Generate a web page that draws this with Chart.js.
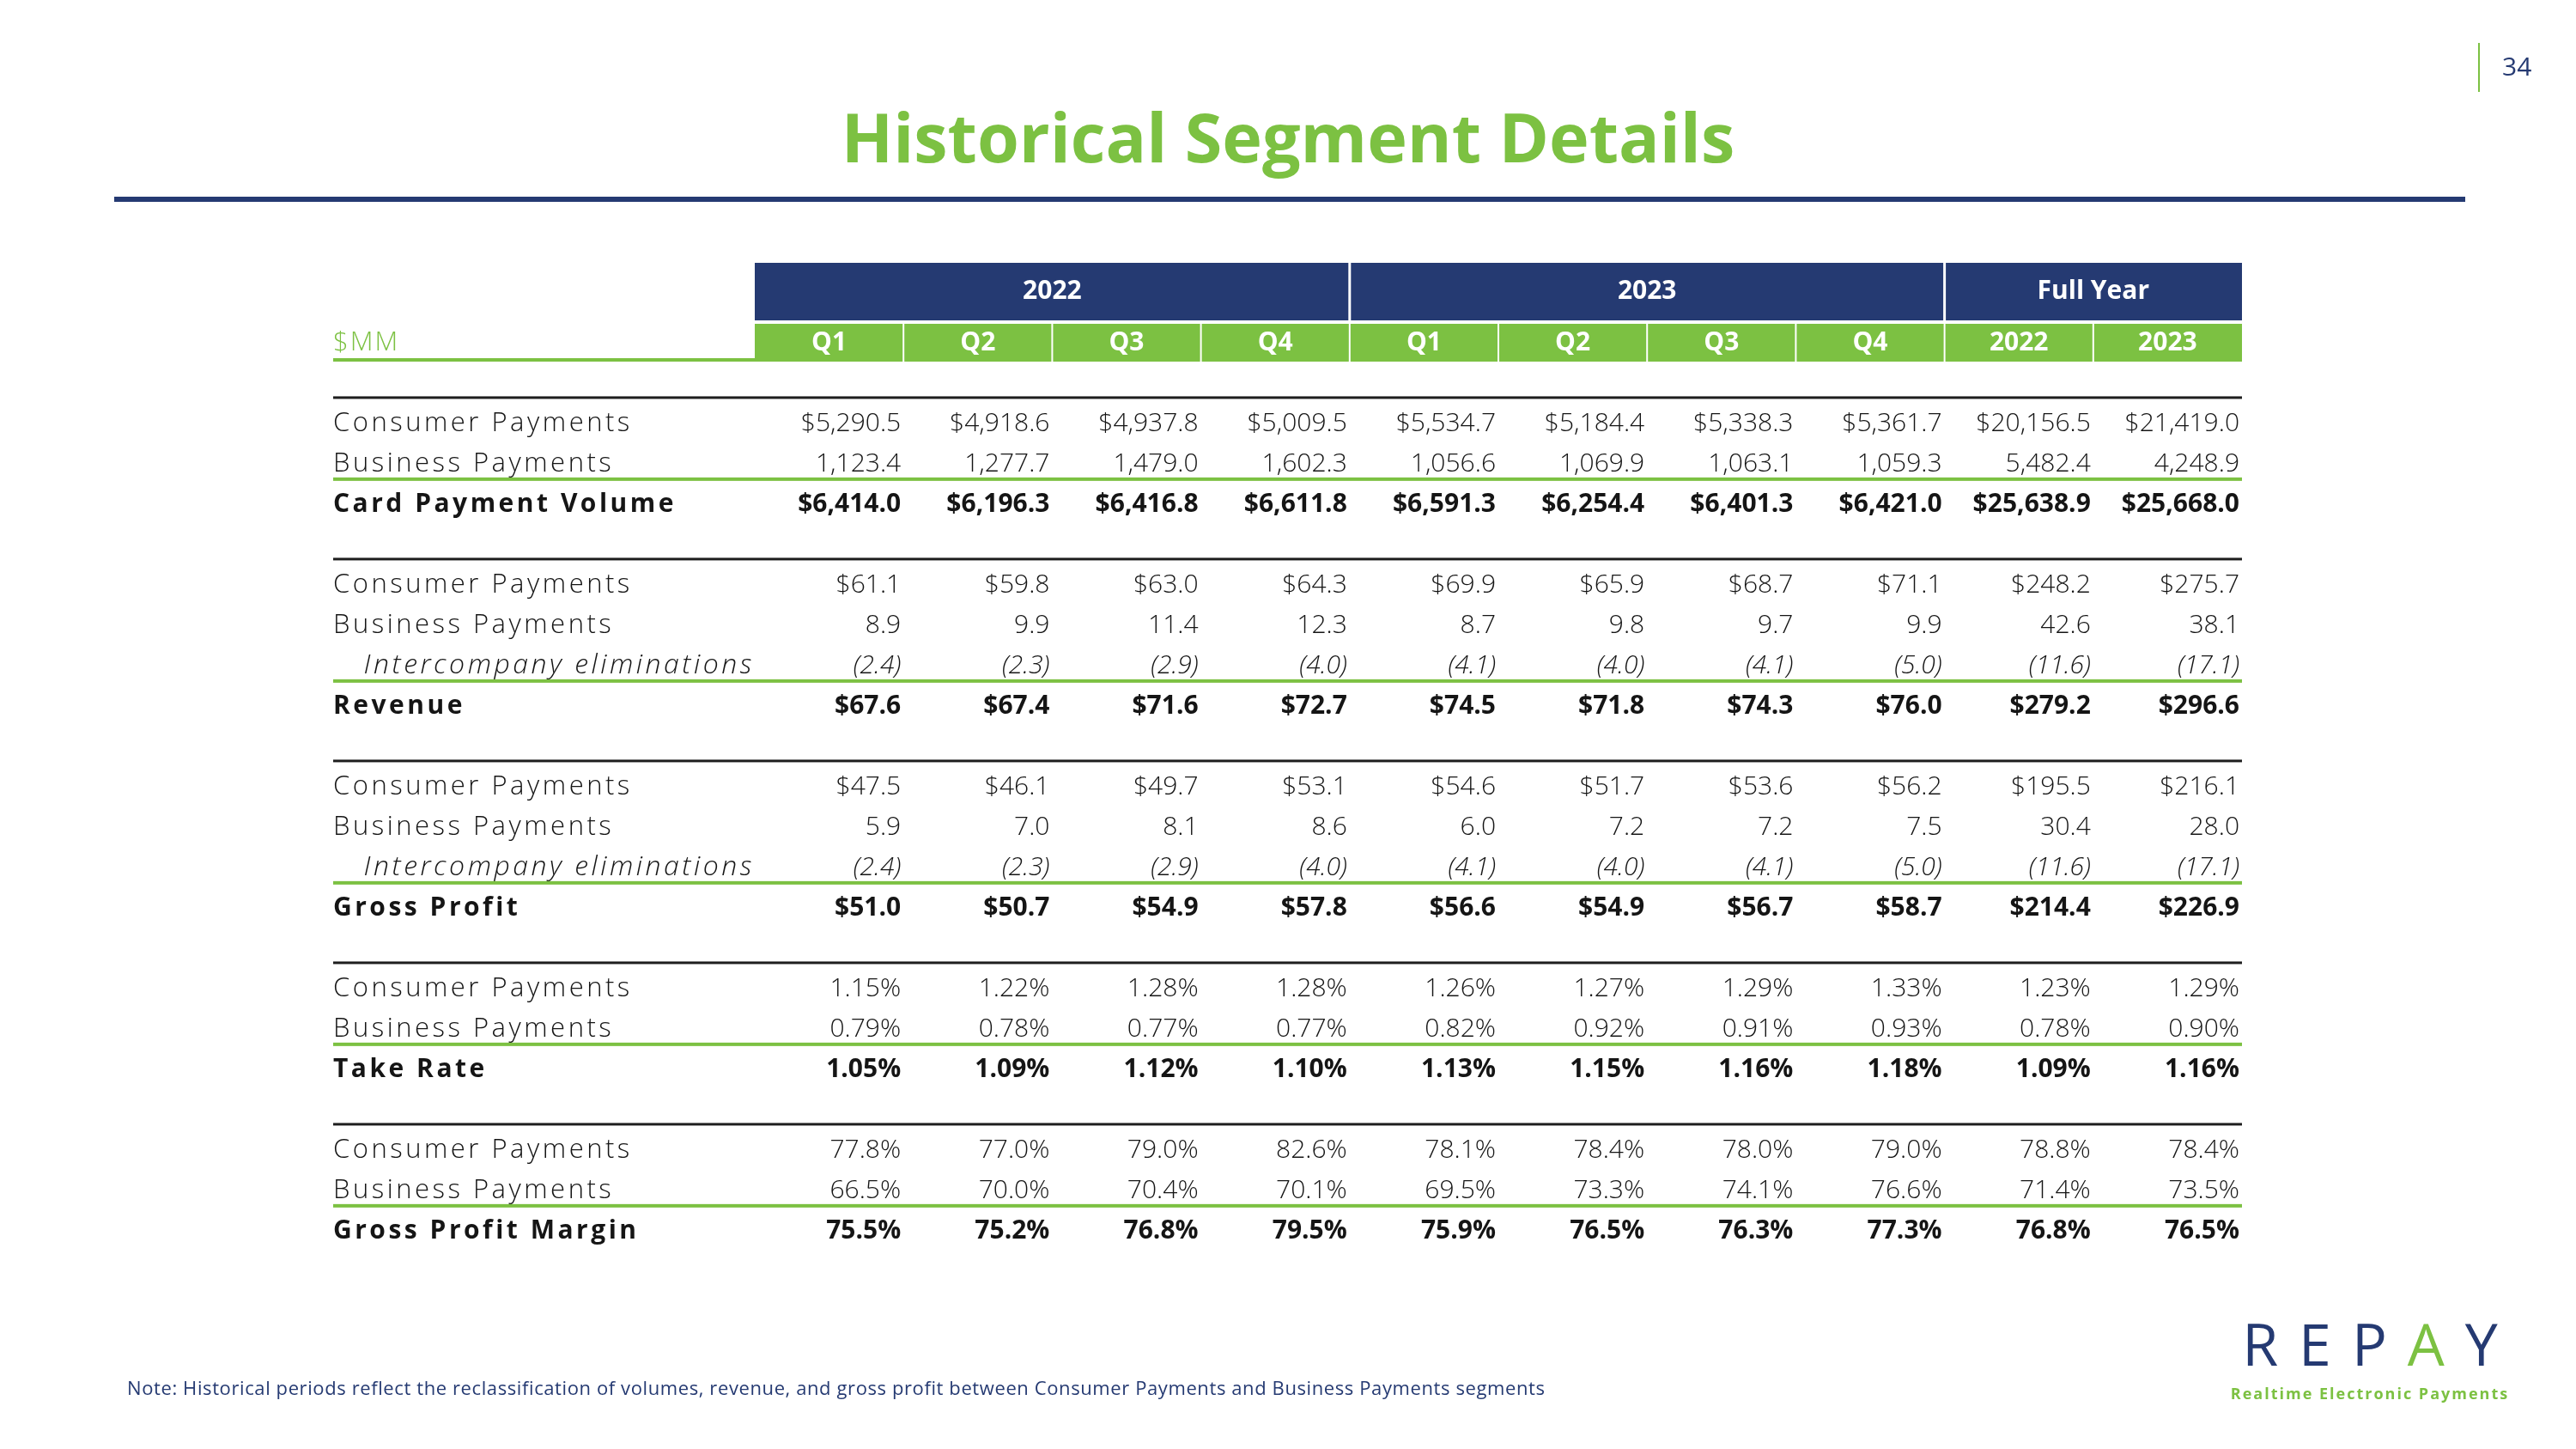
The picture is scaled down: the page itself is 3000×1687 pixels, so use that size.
<!DOCTYPE html>
<html>
<head>
<meta charset="utf-8">
<script src="https://cdn.jsdelivr.net/npm/chart.js@4.4.1/dist/chart.umd.min.js"></script>
<style>
  html, body { margin: 0; padding: 0; background: #fff; }
  #wrap { position: relative; width: 3000px; height: 1687px; overflow: hidden; font-family: "Open Sans", sans-serif; }
  #chart { position: absolute; left: 0; top: 0; }
  .title { position: absolute; left: 0; width: 3000px; top: 101px; text-align: center; color: #7cc142; font-weight: 700; font-size: 79px; line-height: 116px; }
  .rule { position: absolute; left: 133px; width: 2738px; top: 229px; height: 6px; background: #253a72; }
  .pagebar { position: absolute; left: 2886px; top: 50px; width: 2px; height: 57px; background: #7cc142; }
  .pagenum { position: absolute; left: 2914px; top: 57px; font-size: 30px; line-height: 40px; color: #253a72; }
  .note { position: absolute; left: 148px; top: 1601px; font-size: 22px; line-height: 28px; letter-spacing: 0.6px; color: #253a72; white-space: nowrap; }
  .logo { position: absolute; left: 2560px; top: 1528px; width: 400px; text-align: center; }
  .logo .mark { font-size: 68px; line-height: 72px; letter-spacing: 24px; margin-right: -24px; color: #253a72; font-weight: 400; }
  .logo .mark span { color: #7cc142; }
  .logo .tag { font-size: 18px; line-height: 24px; letter-spacing: 2px; color: #7cc142; font-weight: 700; margin-top: 10px; white-space: nowrap; }
</style>
</head>
<body>
<div id="wrap">
  <canvas id="chart" width="3000" height="1687"></canvas>
  <div class="title">Historical Segment Details</div>
  <div class="rule"></div>
  <div class="pagebar"></div>
  <div class="pagenum">34</div>
  <div class="note">Note: Historical periods reflect the reclassification of volumes, revenue, and gross profit between Consumer Payments and Business Payments segments</div>
  <div class="logo"><div class="mark">REP<span>A</span>Y</div><div class="tag">Realtime Electronic Payments</div></div>
</div>
<script>
// Column headers
const columns = ['Q1', 'Q2', 'Q3', 'Q4', 'Q1', 'Q2', 'Q3', 'Q4', '2022', '2023'];
const groups = ['2022', '2023', 'Full Year'];
const groupSpans = [4, 4, 2];

// Row labels ('' = spacer row between sections)
const rowLabels = [
  'Consumer Payments', 'Business Payments', 'Card Payment Volume', '',
  'Consumer Payments', 'Business Payments', 'Intercompany eliminations', 'Revenue', '',
  'Consumer Payments', 'Business Payments', 'Intercompany eliminations', 'Gross Profit', '',
  'Consumer Payments', 'Business Payments', 'Take Rate', '',
  'Consumer Payments', 'Business Payments', 'Gross Profit Margin'
];
const sectionStarts = [0, 4, 9, 14, 18];
const totalRows = [2, 7, 12, 16, 20];
const elimRows = [6, 11];

// Card payment volume ($MM)
const volConsumer = [5290.5, 4918.6, 4937.8, 5009.5, 5534.7, 5184.4, 5338.3, 5361.7, 20156.5, 21419.0];
const volBusiness = [1123.4, 1277.7, 1479.0, 1602.3, 1056.6, 1069.9, 1063.1, 1059.3, 5482.4, 4248.9];
const volTotal = [6414.0, 6196.3, 6416.8, 6611.8, 6591.3, 6254.4, 6401.3, 6421.0, 25638.9, 25668.0];

// Revenue
const revConsumer = [61.1, 59.8, 63.0, 64.3, 69.9, 65.9, 68.7, 71.1, 248.2, 275.7];
const revBusiness = [8.9, 9.9, 11.4, 12.3, 8.7, 9.8, 9.7, 9.9, 42.6, 38.1];
const revElim = [-2.4, -2.3, -2.9, -4.0, -4.1, -4.0, -4.1, -5.0, -11.6, -17.1];
const revTotal = [67.6, 67.4, 71.6, 72.7, 74.5, 71.8, 74.3, 76.0, 279.2, 296.6];

// Gross profit
const gpConsumer = [47.5, 46.1, 49.7, 53.1, 54.6, 51.7, 53.6, 56.2, 195.5, 216.1];
const gpBusiness = [5.9, 7.0, 8.1, 8.6, 6.0, 7.2, 7.2, 7.5, 30.4, 28.0];
const gpElim = [-2.4, -2.3, -2.9, -4.0, -4.1, -4.0, -4.1, -5.0, -11.6, -17.1];
const gpTotal = [51.0, 50.7, 54.9, 57.8, 56.6, 54.9, 56.7, 58.7, 214.4, 226.9];

// Take rate (%)
const takeConsumer = [1.15, 1.22, 1.28, 1.28, 1.26, 1.27, 1.29, 1.33, 1.23, 1.29];
const takeBusiness = [0.79, 0.78, 0.77, 0.77, 0.82, 0.92, 0.91, 0.93, 0.78, 0.90];
const takeTotal = [1.05, 1.09, 1.12, 1.10, 1.13, 1.15, 1.16, 1.18, 1.09, 1.16];

// Gross profit margin (%)
const gpmConsumer = [77.8, 77.0, 79.0, 82.6, 78.1, 78.4, 78.0, 79.0, 78.8, 78.4];
const gpmBusiness = [66.5, 70.0, 70.4, 70.1, 69.5, 73.3, 74.1, 76.6, 71.4, 73.5];
const gpmTotal = [75.5, 75.2, 76.8, 79.5, 75.9, 76.5, 76.3, 77.3, 76.8, 76.5];

const tableRows = [
  { row: 0, values: volConsumer, kind: 'usd' },
  { row: 1, values: volBusiness, kind: 'num' },
  { row: 2, values: volTotal, kind: 'usd' },
  { row: 4, values: revConsumer, kind: 'usd' },
  { row: 5, values: revBusiness, kind: 'num' },
  { row: 6, values: revElim, kind: 'num' },
  { row: 7, values: revTotal, kind: 'usd' },
  { row: 9, values: gpConsumer, kind: 'usd' },
  { row: 10, values: gpBusiness, kind: 'num' },
  { row: 11, values: gpElim, kind: 'num' },
  { row: 12, values: gpTotal, kind: 'usd' },
  { row: 14, values: takeConsumer, kind: 'pct2' },
  { row: 15, values: takeBusiness, kind: 'pct2' },
  { row: 16, values: takeTotal, kind: 'pct2' },
  { row: 18, values: gpmConsumer, kind: 'pct1' },
  { row: 19, values: gpmBusiness, kind: 'pct1' },
  { row: 20, values: gpmTotal, kind: 'pct1' }
];

const NAVY = '#253a72';
const GREEN = '#7cc142';
const INK = '#151515';
const FONT = '"Open Sans", sans-serif';

function fmt(v, kind) {
  if (kind === 'pct2') return v.toFixed(2) + '%';
  if (kind === 'pct1') return v.toFixed(1) + '%';
  const s = Math.abs(v).toLocaleString('en-US', { minimumFractionDigits: 1, maximumFractionDigits: 1 });
  if (v < 0) return '(' + s + ')';
  return (kind === 'usd' ? '$' : '') + s;
}

// cell fonts
function rowFont(row) {
  if (totalRows.includes(row)) return { family: FONT, size: 30, weight: '700' };
  if (elimRows.includes(row)) return { family: FONT, size: 30, weight: '300', style: 'italic' };
  return { family: FONT, size: 30, weight: '300' };
}
// row label fonts (Montserrat is wider, so labels run a bit larger + letter-spaced)
function labelFont(row) {
  if (totalRows.includes(row)) return { family: FONT, size: 30, weight: '700' };
  if (elimRows.includes(row)) return { family: FONT, size: 32, weight: '300', style: 'italic' };
  return { family: FONT, size: 31, weight: '300' };
}
function fontStr(f) {
  return (f.style || 'normal') + ' ' + f.weight + ' ' + f.size + 'px ' + f.family;
}

const tablePlugin = {
  id: 'tablePlugin',
  beforeDraw(chart) {
    // applies to the y-axis row labels, drawn next
    chart.ctx.letterSpacing = '3.5px';
  },
  beforeDatasetsDraw(chart) {
    const { ctx, chartArea, scales: { x, y } } = chart;
    ctx.letterSpacing = '0px';
    const rowH = y.getPixelForValue(1) - y.getPixelForValue(0);
    const edge = i => x.getPixelForValue(i - 0.5);
    const qMid = y.getPixelForValue(-2);
    const gTop = qMid - 22, gBot = qMid + 22;
    const nBot = gTop - 4, nTop = nBot - 67;
    ctx.save();

    // navy group band + green quarter band
    ctx.fillStyle = NAVY;
    ctx.fillRect(edge(0), nTop, edge(columns.length) - edge(0), nBot - nTop);
    ctx.fillStyle = GREEN;
    ctx.fillRect(edge(0), gTop, edge(columns.length) - edge(0), gBot - gTop);

    // separators
    ctx.strokeStyle = '#ffffff';
    ctx.lineWidth = 2;
    for (let i = 1; i < columns.length; i++) {
      ctx.beginPath();
      ctx.moveTo(edge(i), gTop);
      ctx.lineTo(edge(i), gBot);
      ctx.stroke();
    }
    ctx.lineWidth = 3;
    let start = 0;
    groupSpans.forEach((span, g) => {
      if (g > 0) {
        ctx.beginPath();
        ctx.moveTo(edge(start), nTop);
        ctx.lineTo(edge(start), nBot);
        ctx.stroke();
      }
      start += span;
    });

    // header text
    ctx.fillStyle = '#ffffff';
    ctx.textAlign = 'center';
    ctx.textBaseline = 'middle';
    ctx.font = '700 30px ' + FONT;
    start = 0;
    groupSpans.forEach((span, g) => {
      const cx = (edge(start) + edge(start + span)) / 2;
      ctx.fillText(groups[g], cx, (nTop + nBot) / 2);
      start += span;
    });
    columns.forEach((c, i) => ctx.fillText(c, x.getPixelForValue(i), qMid));

    // $MM unit label and its underline
    ctx.fillStyle = GREEN;
    ctx.textAlign = 'left';
    ctx.font = '300 31px ' + FONT;
    ctx.letterSpacing = '2px';
    ctx.fillText('$MM', y.left, qMid);
    ctx.letterSpacing = '0px';
    ctx.fillRect(y.left, gBot - 4, edge(0) - y.left, 4);

    // section rules (black) and total rules (green)
    ctx.fillStyle = '#1e1e1e';
    sectionStarts.forEach(r => {
      const py = y.getPixelForValue(r) - rowH * 0.64;
      ctx.fillRect(y.left, py - 1.5, chartArea.right - y.left, 3);
    });
    ctx.fillStyle = GREEN;
    totalRows.forEach(r => {
      const py = y.getPixelForValue(r) - rowH * 0.62;
      ctx.fillRect(y.left, py - 2, chartArea.right - y.left, 4);
    });
    ctx.restore();
  },
  afterDatasetsDraw(chart) {
    const { ctx, scales: { x } } = chart;
    const colW = x.getPixelForValue(1) - x.getPixelForValue(0);
    ctx.save();
    ctx.fillStyle = INK;
    ctx.textAlign = 'right';
    ctx.textBaseline = 'middle';
    chart.data.datasets.forEach((ds, di) => {
      const meta = chart.getDatasetMeta(di);
      ctx.font = fontStr(rowFont(ds.row));
      meta.data.forEach((pt, i) => {
        ctx.fillText(fmt(ds.values[i], ds.kind), pt.x + colW / 2 - 3, pt.y);
      });
    });
    ctx.restore();
  }
};

new Chart(document.getElementById('chart'), {
  type: 'scatter',
  data: {
    datasets: tableRows.map(r => ({
      label: rowLabels[r.row],
      row: r.row,
      kind: r.kind,
      values: r.values,
      data: r.values.map((v, i) => ({ x: i, y: r.row })),
      pointRadius: 0,
      pointHoverRadius: 0
    }))
  },
  options: {
    responsive: false,
    animation: false,
    events: [],
    layout: { padding: { left: 388, right: 389, top: 469.5, bottom: 230.5 } },
    plugins: { legend: { display: false }, tooltip: { enabled: false } },
    scales: {
      x: { type: 'linear', min: -0.5, max: columns.length - 0.5, display: false },
      y: {
        type: 'linear',
        reverse: true,
        min: -0.5,
        max: rowLabels.length - 0.5,
        grid: { display: false },
        border: { display: false },
        afterBuildTicks: s => { s.ticks = rowLabels.map((_, i) => ({ value: i })); },
        afterFit: s => { s.width = 491; },
        ticks: {
          autoSkip: false,
          crossAlign: 'far',
          padding: 0,
          color: INK,
          font: c => labelFont(c.tick ? c.tick.value : c.index),
          callback: v => (elimRows.includes(v) ? '\u2003' : '') + rowLabels[v]
        }
      }
    }
  },
  plugins: [tablePlugin]
});
</script>
</body>
</html>
